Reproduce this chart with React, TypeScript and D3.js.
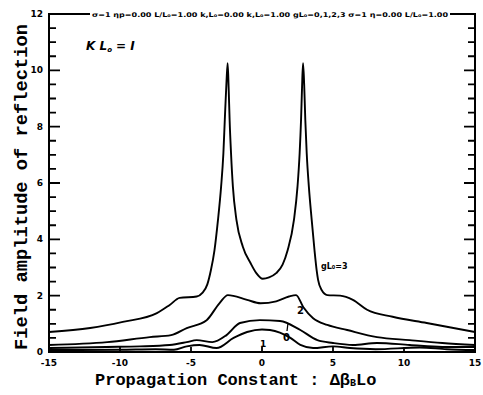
import React, { useEffect, useRef } from 'react';
import * as d3 from 'd3';

// x 轴刻度 / y 轴刻度
const xTicks = [-15, -10, -5, 0, 5, 10, 15];
const yTicks = [0, 2, 4, 6, 8, 10, 12];
const yMinorTicks = [0.5, 1, 1.5, 2.5, 3, 3.5, 4.5, 5, 5.5, 6.5, 7, 7.5, 8.5, 9, 9.5, 10.5, 11, 11.5];

// 各条曲线 [Δβ L0, 反射场幅度]
const gL3 = [
  [-15, 0.71], [-12.1, 0.85], [-9.8, 1.07], [-7.4, 1.38], [-6.5, 1.67], [-5.8, 1.92], [-4.6, 1.97],
  [-4.2, 2.1], [-3.85, 2.4], [-3.6, 2.9], [-3.35, 3.6], [-3.1, 4.69], [-2.88, 5.87], [-2.72, 7.05],
  [-2.62, 8.24], [-2.5, 9.6], [-2.42, 10.25], [-2.35, 9.4], [-2.28, 8.24], [-2.18, 7.05],
  [-2.05, 5.87], [-1.8, 4.69], [-1.35, 3.74], [-0.8, 3.15], [-0.4, 2.8], [0.05, 2.6], [0.5, 2.65],
  [1.0, 2.8], [1.45, 3.1], [1.8, 3.6], [2.25, 4.69], [2.5, 5.87], [2.65, 7.05], [2.75, 8.24],
  [2.82, 9.4], [2.89, 10.25], [2.97, 9.5], [3.05, 8.24], [3.15, 7.05], [3.3, 5.87], [3.5, 4.69],
  [3.7, 3.6], [3.85, 2.9], [3.95, 2.56], [4.2, 2.2], [4.6, 2.02], [5.5, 2.0], [6.4, 1.85],
  [7.4, 1.5], [9.2, 1.25], [11.6, 1.03], [15, 0.71]
];
const gL2 = [
  [-15, 0.25], [-10.9, 0.35], [-7.9, 0.53], [-6.4, 0.6], [-5.3, 0.85], [-3.9, 1.13], [-3.0, 1.73],
  [-2.4, 2.02], [-1.05, 1.85], [-0.1, 1.73], [1.0, 1.8], [1.9, 1.97], [2.4, 2.02], [2.9, 1.6],
  [3.6, 1.2], [4.6, 0.96], [6.0, 0.78], [8.1, 0.53], [10.4, 0.42], [12.7, 0.32], [15, 0.25]
];
const gL1 = [
  [-15, 0.14], [-11, 0.18], [-8.6, 0.2], [-6.5, 0.25], [-5.3, 0.35], [-4.6, 0.42], [-3.5, 0.35],
  [-2.5, 0.6], [-1.55, 1.03], [-0.15, 1.13], [1.27, 1.1], [2.7, 0.78], [3.9, 0.42], [5.0, 0.32],
  [6.4, 0.25], [8.1, 0.32], [10.4, 0.25], [12.7, 0.18], [15, 0.18]
];
const gL0 = [
  [-15, 0.07], [-10, 0.08], [-7.5, 0.1], [-6.2, 0.08], [-5.3, 0.2], [-4.4, 0.25], [-3.2, 0.14],
  [-2.0, 0.5], [-1.05, 0.71], [0, 0.8], [0.56, 0.78], [2.0, 0.5], [2.7, 0.25], [3.6, 0.14],
  [5.0, 0.2], [6.2, 0.14], [8, 0.1], [11.1, 0.16], [13, 0.1], [15, 0.07]
];

const headerText = 'σ=1  ηp=0.00  L/L₀=1.00  k,L₀=0.00  k,L₀=1.00  gL₀=0,1,2,3  σ=1  η=0.00  L/L₀=1.00';

export default function App() {
  const ref = useRef<SVGSVGElement>(null);

  useEffect(() => {
    const svg = d3.select(ref.current);
    svg.selectAll('*').remove();

    const left = 49, right = 475, top = 14, bottom = 352;

    const x = d3.scaleLinear().domain([-15, 15]).range([left, right]);
    const y = d3.scaleLinear().domain([0, 12]).range([bottom, top]);

    // 曲线
    const line = d3.line<number[]>()
      .x(d => x(d[0]))
      .y(d => y(d[1]))
      .curve(d3.curveMonotoneX);

    svg.selectAll('path.curve')
      .data([gL3, gL2, gL1, gL0])
      .enter()
      .append('path')
      .attr('class', 'curve')
      .attr('d', d => line(d as any))
      .attr('fill', 'none')
      .attr('stroke', '#000')
      .attr('stroke-width', 1.9);

    // 刻度 (左右两侧向内, 底部向上)
    const tickPath = (x1: number, y1: number, x2: number, y2: number) =>
      `M${x1},${y1}L${x2},${y2}`;
    const ticks: string[] = [];
    yTicks.forEach(v => {
      ticks.push(tickPath(left, y(v), left + 11, y(v)));
      ticks.push(tickPath(right, y(v), right - 11, y(v)));
    });
    yMinorTicks.forEach(v => {
      ticks.push(tickPath(left, y(v), left + 7, y(v)));
      ticks.push(tickPath(right, y(v), right - 7, y(v)));
    });
    xTicks.forEach(v => ticks.push(tickPath(x(v), bottom, x(v), bottom - 5)));
    svg.append('path')
      .attr('d', ticks.join(''))
      .attr('fill', 'none')
      .attr('stroke', '#000')
      .attr('stroke-width', 1.8);

    // 框
    svg.append('rect')
      .attr('x', left).attr('y', top)
      .attr('width', right - left).attr('height', bottom - top)
      .attr('fill', 'none').attr('stroke', '#000').attr('stroke-width', 2);

    // 刻度文字
    svg.selectAll('text.ylab')
      .data(yTicks)
      .enter()
      .append('text')
      .attr('class', 'ylab')
      .attr('x', 43)
      .attr('y', d => y(d) + 3)
      .attr('text-anchor', 'end')
      .attr('font-family', 'DejaVu Sans')
      .attr('font-weight', 'bold')
      .attr('font-size', 9)
      .text(d => d);

    svg.selectAll('text.xlab')
      .data(xTicks)
      .enter()
      .append('text')
      .attr('class', 'xlab')
      .attr('x', d => x(d))
      .attr('y', 366)
      .attr('text-anchor', 'middle')
      .attr('font-family', 'DejaVu Sans')
      .attr('font-weight', 'bold')
      .attr('font-size', 9)
      .text(d => d);

    // 顶部参数说明
    svg.append('rect')
      .attr('x', 90).attr('y', 9).attr('width', 360).attr('height', 10)
      .attr('fill', '#fff');
    svg.append('text')
      .attr('x', 92).attr('y', 16.5)
      .attr('textLength', 356)
      .attr('lengthAdjust', 'spacingAndGlyphs')
      .attr('font-family', 'DejaVu Sans')
      .attr('font-weight', 'bold')
      .attr('font-size', 6.5)
      .text(headerText);

    // κL0 = 1
    const kl = svg.append('text')
      .attr('x', 86).attr('y', 50)
      .attr('font-family', 'DejaVu Sans')
      .attr('font-style', 'italic')
      .attr('font-weight', 'bold')
      .attr('font-size', 12);
    kl.append('tspan').text('K L');
    kl.append('tspan').attr('font-size', 7).attr('dy', 2).text('o');
    kl.append('tspan').attr('dy', -2).text(' = I');

    // 曲线标注
    const note = (tx: number, ty: number, s: string, size = 10) =>
      svg.append('text')
        .attr('x', tx).attr('y', ty)
        .attr('font-family', 'DejaVu Sans')
        .attr('font-weight', 'bold')
        .attr('font-size', size)
        .text(s);
    note(321, 269, 'gL₀=3', 8);
    note(297, 314, '2');
    note(260, 347, '1', 9);
    note(283, 341, '0', 10);
    svg.append('line')
      .attr('x1', 287).attr('y1', 331).attr('x2', 288).attr('y2', 323)
      .attr('stroke', '#000').attr('stroke-width', 1.2);

    // 坐标轴标题
    const xt = svg.append('text')
      .attr('x', 95).attr('y', 385)
      .attr('font-family', 'Liberation Mono')
      .attr('font-weight', 'bold')
      .attr('font-size', 17);
    xt.append('tspan').text('Propagation Constant : Δβ');
    xt.append('tspan').attr('font-size', 10).attr('dy', 1).text('B');
    xt.append('tspan').attr('dy', -1).text('Lo');

    svg.append('text')
      .attr('transform', 'translate(27,187) rotate(-90)')
      .attr('text-anchor', 'middle')
      .attr('textLength', 326)
      .attr('lengthAdjust', 'spacingAndGlyphs')
      .attr('font-family', 'Liberation Mono')
      .attr('font-weight', 'bold')
      .attr('font-size', 18)
      .text('Field  amplitude  of  reflection');
  }, []);

  return (
    <svg ref={ref} width={483} height={395}
      style={{ position: 'absolute', left: 0, top: 0, background: '#fff' }} />
  );
}
